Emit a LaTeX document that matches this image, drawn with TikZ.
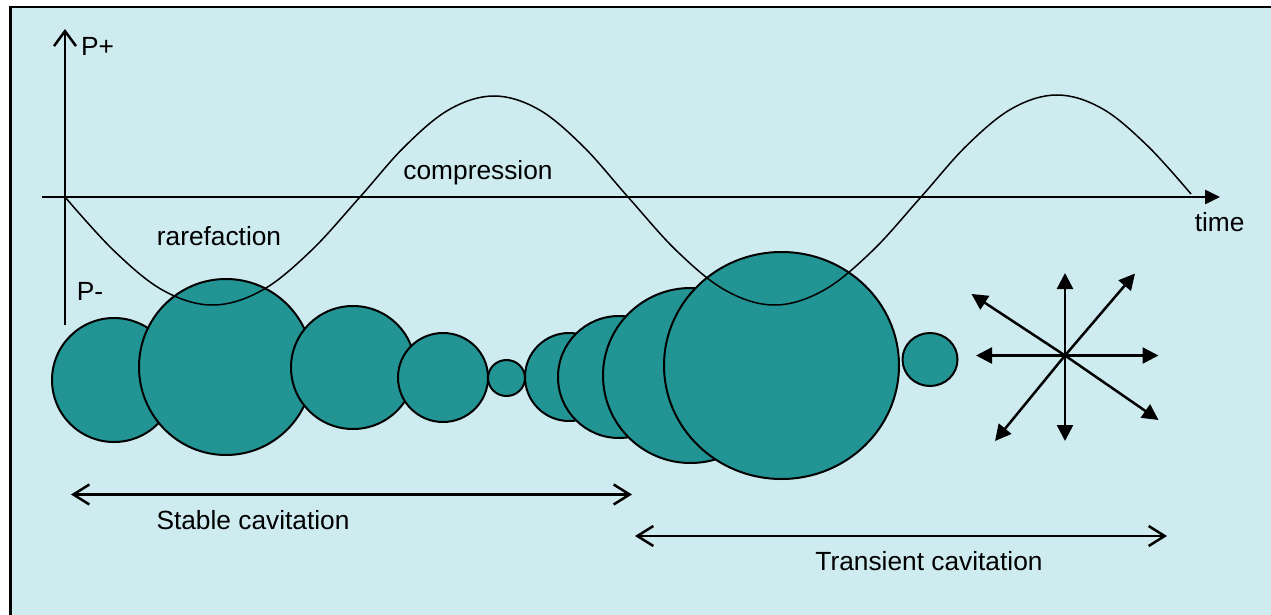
\documentclass[tikz,border=0pt]{standalone}
\usepackage{fontspec}
\setmainfont{Liberation Sans}
\usetikzlibrary{arrows.meta,shapes.geometric}
\definecolor{panel}{RGB}{206,235,240}
\definecolor{bubblefill}{RGB}{34,148,148}
\begin{document}
\begin{tikzpicture}[x=1pt,y=-1pt,
  bubble/.style={ellipse, draw=black, line width=2pt, fill=bubblefill, inner sep=0pt, outer sep=0pt},
  txt/.style={font=\fontsize{26.3}{31}\selectfont, inner sep=0pt, text=black, anchor=base},
  axisline/.style={line width=2.5pt},
  waveline/.style={line width=1.5pt},
  burst/.style={line width=2.5pt, -{Triangle[length=16pt,width=16pt]}},
  rangearrow/.style={line width=2.5pt, {Straight Barb[length=16pt,width=20pt]}-{Straight Barb[length=16pt,width=20pt]}}
]
\useasboundingbox (0,0) rectangle (1271,615);
\clip (0,0) rectangle (1271,615);

% panel
\draw[line width=2.5pt, fill=panel] (10.7,7.2) rectangle (1300,640);

% bubbles, left to right, each one on top of the previous
\node[bubble, minimum width=124pt, minimum height=124pt] (bA) at (114,380) {};
\node[bubble, minimum width=174pt, minimum height=176pt] (bB) at (226,367) {};
\node[bubble, minimum width=124pt, minimum height=123pt] (bC) at (353,367.5) {};
\node[bubble, minimum width=90pt, minimum height=89pt] (bD) at (443,377.5) {};
\node[bubble, minimum width=37pt, minimum height=36pt] (bE) at (506.5,378) {};
\node[bubble, minimum width=88pt, minimum height=88pt] (bF) at (569,377) {};
\node[bubble, minimum width=122pt, minimum height=122pt] (bG) at (619,377) {};
\node[bubble, minimum width=175pt, minimum height=175pt] (bH) at (690.5,375.5) {};
\node[bubble, minimum width=235pt, minimum height=227pt] (bI) at (781.5,365.5) {};
\node[bubble, minimum width=55pt, minimum height=53pt] (bJ) at (930,359.5) {};

% pressure axis
\coordinate (pbottom) at (65,325);
\coordinate (ptop) at (65,29);
\draw[axisline, -{Straight Barb[length=15pt,width=22pt]}] (pbottom) -- (ptop);

% time axis
\coordinate (tstart) at (42,197);
\coordinate (tend) at (1220,197);
\draw[axisline, -{Triangle[length=15pt,width=14pt]}] (tstart) -- (tend);

% pressure wave
\draw[waveline] plot[smooth, tension=0.6] coordinates {
  (65,197) (114.2,251) (163.3,290.5) (212.5,305) (261.7,290.5) (310.8,251)
  (360,197) (404.7,146.5) (449.3,109.5) (494,96) (538.7,109.5) (583.3,146.5)
  (628,197) (676.8,251) (725.7,290.5) (774.5,305) (823.3,290.5) (872.2,251)
  (921,197) (966.3,146) (1011.7,108.7) (1057,95) (1102.3,108.7) (1147.7,146)
  (1191,194)};

% labels of the plot
\node[txt] (pplus) at (97.5,56) {P+};
\node[txt] (pminus) at (90,300) {P-};
\node[txt] (rare) at (219,245) {rarefaction};
\node[txt] (comp) at (478,179.5) {compression};
\node[txt] (time) at (1219.6,231.5) {time};

% collapse burst
\coordinate (burstc) at (1065,355.5);
\coordinate (bu) at (1065,273);
\coordinate (bd) at (1065,441);
\coordinate (br) at (1158.5,355.5);
\coordinate (bl) at (976,355.5);
\coordinate (bur) at (1135,273.5);
\coordinate (bdr) at (1158.5,420);
\coordinate (bul) at (971.5,294);
\coordinate (bdl) at (995,441);
\foreach \t in {bu,bd,br,bl,bur,bdr,bul,bdl}
  \draw[burst] (burstc) -- (\t);

% regimes
\coordinate (sL) at (71,494.5);
\coordinate (sR) at (632,494.5);
\draw[rangearrow] (sL) -- (sR);
\node[txt] (stable) at (253,529) {Stable cavitation};

\coordinate (trL) at (635,536);
\coordinate (trR) at (1167,536);
\draw[rangearrow] (trL) -- (trR);
\node[txt] (transient) at (929,570.5) {Transient cavitation};
\end{tikzpicture}
\end{document}
